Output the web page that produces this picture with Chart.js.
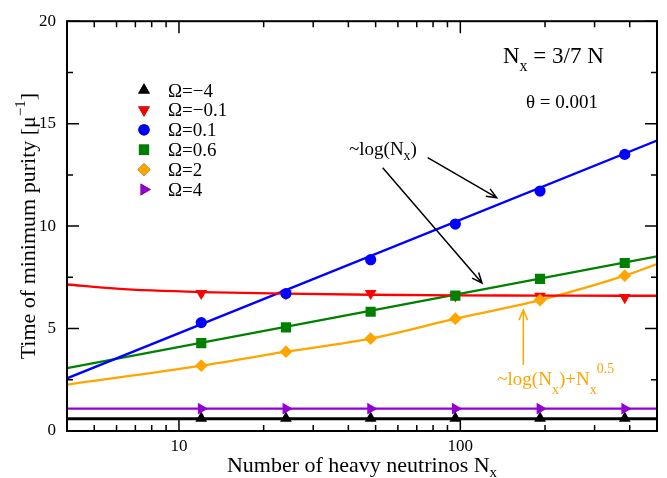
<!DOCTYPE html>
<html>
<head>
<meta charset="utf-8">
<script src="https://cdn.jsdelivr.net/npm/chart.js@4/dist/chart.umd.min.js"></script>
<style>
  html, body { margin: 0; padding: 0; background: #fff; }
  #wrap { width: 667px; height: 478px; }
</style>
</head>
<body>
<div id="wrap"><canvas id="plot" width="667" height="478"></canvas></div>
<script>
// measured points, Nx = 3/7 N
const nx = [12, 24, 48, 96, 192, 384];
const omegaM4 = [0.62, 0.62, 0.62, 0.62, 0.62, 0.62];
const omegaM01 = [6.72, 6.7, 6.72, 6.6, 6.58, 6.52];
const omega01 = [5.29, 6.71, 8.36, 10.1, 11.71, 13.5];
const omega06 = [4.29, 5.06, 5.82, 6.61, 7.42, 8.2];
const omega2 = [3.19, 3.87, 4.51, 5.48, 6.39, 7.58];
const omega4 = [1.09, 1.09, 1.09, 1.09, 1.09, 1.09];

// fitted curves
const fitEnds = [4, 500];
const fitM4 = [0.6, 0.6];
const fit4 = [1.09, 1.09];
const fit01 = [2.57, 14.18];
const fit06 = [3.07, 8.52];
const fitRedX = [4, 6, 8, 12, 24, 48, 96, 192, 384, 500];
const fitM01 = [7.15, 6.95, 6.86, 6.78, 6.7, 6.65, 6.62, 6.61, 6.6, 6.6];
const fitOrangeX = [4, 12, 24, 48, 96, 192, 384, 500];
const fit2 = [2.26, 3.19, 3.87, 4.51, 5.48, 6.39, 7.58, 8.15];

const legendLabels = ['Ω=−4', 'Ω=−0.1', 'Ω=0.1', 'Ω=0.6', 'Ω=2', 'Ω=4'];
const xMajor = [10, 100];
const xMinor = [5, 6, 7, 8, 9, 20, 30, 40, 50, 60, 70, 80, 90, 200, 300, 400];
const yMajor = [0, 5, 10, 15, 20];
const yMinor = [2.5, 7.5, 12.5, 17.5];

const SERIF = '"Liberation Serif", "DejaVu Serif", serif';
const BLACK = '#000000', RED = '#ff0000', BLUE = '#0000ff',
      GREEN = '#008000', ORANGE = '#ffa500', PURPLE = '#9400d3';

function pts(xs, ys) {
  return xs.map((x, i) => ({ x: x, y: ys[i] }));
}

function fitLine(xs, ys, color, width) {
  return {
    data: pts(xs, ys), borderColor: color, borderWidth: width || 2.3,
    pointRadius: 0, showLine: true, fill: false,
    cubicInterpolationMode: 'monotone', order: 20
  };
}

function markers(ys, color, style, radius, rotation, order) {
  return {
    data: pts(nx, ys), showLine: false, backgroundColor: color, borderColor: color,
    borderWidth: 0, pointStyle: style, pointRadius: radius, pointRotation: rotation,
    order: order
  };
}

const series = [
  markers(omegaM4, BLACK, 'triangle', 6.8, 0, 5),
  markers(omegaM01, RED, 'triangle', 6.8, 180, 4),
  markers(omega01, BLUE, 'circle', 5.6, 0, 3),
  markers(omega06, GREEN, 'rect', 7.2, 0, 2),
  markers(omega2, ORANGE, 'rectRot', 6.4, 0, 1),
  markers(omega4, PURPLE, 'triangle', 6.8, 90, 0)
];

const lines = [
  fitLine(fitEnds, fitM4, BLACK, 3),
  fitLine(fitRedX, fitM01, RED),
  fitLine(fitEnds, fit01, BLUE),
  fitLine(fitEnds, fit06, GREEN),
  fitLine(fitOrangeX, fit2, ORANGE),
  fitLine(fitEnds, fit4, PURPLE)
];

function rich(ctx, x, y, parts, color, align) {
  let total = 0;
  parts.forEach(p => {
    ctx.font = (p.size || 19) + 'px ' + SERIF;
    p.w = ctx.measureText(p.t).width;
    total += p.w;
  });
  if (align === 'center') x -= total / 2;
  ctx.fillStyle = color || BLACK;
  ctx.textAlign = 'left';
  ctx.textBaseline = 'alphabetic';
  parts.forEach(p => {
    ctx.font = (p.size || 19) + 'px ' + SERIF;
    ctx.fillText(p.t, x, y + (p.dy || 0));
    x += p.w;
  });
}

function arrow(ctx, x1, y1, x2, y2, color) {
  const a = Math.atan2(y2 - y1, x2 - x1), len = 11, spread = 0.4;
  ctx.save();
  ctx.strokeStyle = color;
  ctx.lineWidth = 1.5;
  ctx.beginPath();
  ctx.moveTo(x1, y1);
  ctx.lineTo(x2, y2);
  ctx.moveTo(x2 - len * Math.cos(a - spread), y2 - len * Math.sin(a - spread));
  ctx.lineTo(x2, y2);
  ctx.lineTo(x2 - len * Math.cos(a + spread), y2 - len * Math.sin(a + spread));
  ctx.stroke();
  ctx.restore();
}

const decorations = {
  id: 'decorations',
  afterDraw(chart) {
    const ctx = chart.ctx, a = chart.chartArea;
    const xs = chart.scales.x, ys = chart.scales.y;
    ctx.save();

    // frame and inward ticks on all sides
    ctx.strokeStyle = BLACK;
    ctx.lineWidth = 2;
    ctx.strokeRect(a.left, a.top, a.right - a.left, a.bottom - a.top);
    ctx.lineWidth = 1.5;
    ctx.beginPath();
    const xt = (v, len) => {
      const px = xs.getPixelForValue(v);
      ctx.moveTo(px, a.bottom); ctx.lineTo(px, a.bottom - len);
      ctx.moveTo(px, a.top); ctx.lineTo(px, a.top + len);
    };
    const yt = (v, len) => {
      const py = ys.getPixelForValue(v);
      ctx.moveTo(a.left, py); ctx.lineTo(a.left + len, py);
      ctx.moveTo(a.right, py); ctx.lineTo(a.right - len, py);
    };
    xMajor.forEach(v => xt(v, 12));
    xMinor.forEach(v => xt(v, 6));
    yMajor.forEach(v => yt(v, 12));
    yMinor.forEach(v => yt(v, 6));
    ctx.stroke();

    // legend
    series.forEach((ds, i) => {
      const cy = 90 + i * 19.9;
      Chart.helpers.drawPoint(ctx, {
        pointStyle: ds.pointStyle, radius: ds.pointRadius, rotation: ds.pointRotation,
        borderWidth: 0
      }, 144, cy);
      ctx.fillStyle = ds.backgroundColor;
      ctx.fill();
      rich(ctx, 168, cy + 6.5, [{ t: legendLabels[i], size: 19 }]);
    });

    // annotations
    rich(ctx, 503, 63.3, [
      { t: 'N', size: 23 }, { t: 'x', size: 16, dy: 8 }, { t: ' = 3/7 N', size: 23 }
    ]);
    rich(ctx, 526, 108, [{ t: 'θ = 0.001', size: 19 }]);
    rich(ctx, 349, 155, [
      { t: '~log(N', size: 19 }, { t: 'x', size: 14, dy: 5 }, { t: ')', size: 19 }
    ]);
    arrow(ctx, 427.7, 157.7, 496.7, 197.7, BLACK);
    arrow(ctx, 382.7, 167.7, 482, 283, BLACK);
    rich(ctx, 497.3, 385, [
      { t: '~log(N', size: 19 }, { t: 'x', size: 14, dy: 9 }, { t: ')+N', size: 19 },
      { t: 'x', size: 14, dy: 9 }, { t: '0.5', size: 14, dy: -12 }
    ], ORANGE);
    arrow(ctx, 523.3, 365, 523.3, 310, ORANGE);

    // axis titles
    rich(ctx, (a.left + a.right) / 2, 471.7, [
      { t: 'Number of heavy neutrinos N', size: 22 }, { t: 'x', size: 15, dy: 5.6 }
    ], BLACK, 'center');
    ctx.save();
    ctx.translate(35, (a.top + a.bottom) / 2);
    ctx.rotate(-Math.PI / 2);
    rich(ctx, 0, 0, [
      { t: 'Time of minimum purity [μ', size: 22 }, { t: '−1', size: 15, dy: -10 },
      { t: ']', size: 22 }
    ], BLACK, 'center');
    ctx.restore();

    ctx.restore();
  }
};

new Chart(document.getElementById('plot'), {
  type: 'scatter',
  data: { datasets: series.concat(lines) },
  options: {
    responsive: false,
    animation: false,
    layout: { padding: { left: 0, right: 10, top: 18, bottom: 0 } },
    plugins: { legend: { display: false }, tooltip: { enabled: false } },
    scales: {
      x: {
        type: 'logarithmic', min: 4, max: 500,
        grid: { display: false, drawTicks: false },
        border: { display: false },
        afterBuildTicks: axis => { axis.ticks = xMajor.map(v => ({ value: v, major: true })); },
        afterFit: axis => { axis.height = 47; },
        ticks: {
          autoSkip: false, maxRotation: 0, padding: 5, color: BLACK,
          font: { family: SERIF, size: 17 },
          callback: v => String(v)
        }
      },
      y: {
        min: 0, max: 20,
        grid: { display: false, drawTicks: false },
        border: { display: false },
        afterFit: axis => { axis.width = 67; },
        ticks: {
          stepSize: 5, padding: 11, color: BLACK,
          font: { family: SERIF, size: 17 }
        }
      }
    }
  },
  plugins: [decorations]
});
</script>
</body>
</html>
